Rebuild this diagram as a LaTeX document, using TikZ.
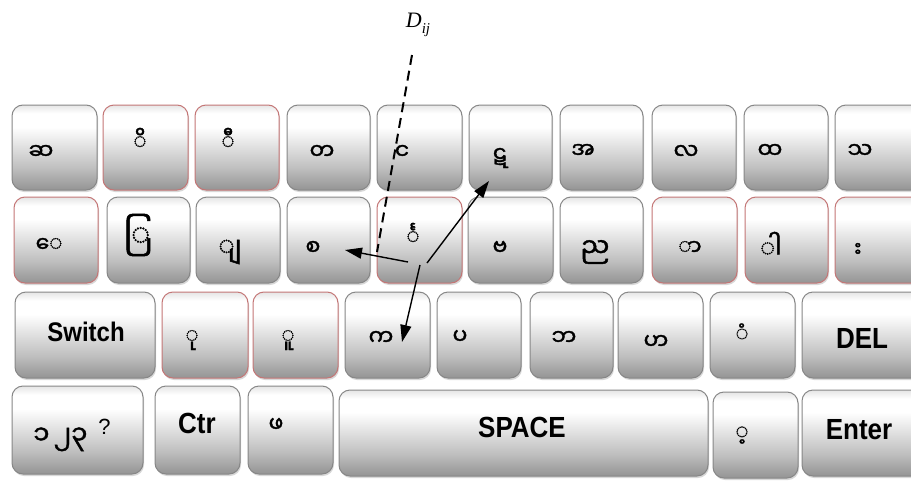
\documentclass[tikz,border=0pt]{standalone}
\usepackage{fontspec}
\usepackage{graphicx}
\setsansfont{Liberation Sans}
\newfontfamily\mym[Script=Myanmar,FakeBold=1.6]{Noto Sans Myanmar UI}
\newfontfamily\dfont{Liberation Serif}
\usetikzlibrary{arrows.meta,shadows}
\pgfdeclareverticalshading{keyshade}{100bp}{color(0bp)=(black!42); color(25bp)=(black!42); color(38bp)=(black!25); color(62bp)=(white); color(70bp)=(white); color(75bp)=(black!10); color(100bp)=(black!10)}
\definecolor{redb}{RGB}{196,118,118}
\definecolor{grayb}{RGB}{135,135,135}
\tikzset{
  keybox/.style={draw=grayb, line width=1pt, rounded corners=11pt, shading=keyshade, inner sep=0pt,
    drop shadow={shadow xshift=1pt, shadow yshift=-2pt, opacity=0.3}},
  redkey/.style={draw=redb},
  mtxt/.style={font=\mym\fontsize{22}{26}\selectfont, inner sep=0pt},
  ltxt/.style={font=\sffamily\bfseries\fontsize{26}{28}\selectfont, inner sep=0pt},
  arr/.style={-{Triangle[length=17pt,width=11pt]}, line width=1.4pt},
  dline/.style={dash pattern=on 10pt off 6pt, line width=2pt}
}
\newcommand\kbox[6][]{\node[keybox,#1,minimum width={#4pt-#2pt},minimum height={#5pt-#3pt}] (#6) at ({(#2+#4)/2},{(#3+#5)/2}) {};}
\newcommand\tall[1]{\scalebox{1}[1.12]{#1}}
\begin{document}
\begin{tikzpicture}[x=1pt,y=-1pt]
\useasboundingbox[fill=white] (0,0) rectangle (911,493);
% row 1
\kbox{12}{105}{97}{190}{k11}
\kbox[redkey]{103}{105}{188}{190}{k12}
\kbox[redkey]{195}{105}{279}{190}{k13}
\kbox{287}{105}{370}{190}{k14}
\kbox{377}{105}{462}{190}{k15}
\kbox{469}{105}{552}{190}{k16}
\kbox{560}{105}{643}{190}{k17}
\kbox{652}{105}{736}{190}{k18}
\kbox{744}{105}{828}{190}{k19}
\kbox{835}{105}{922}{190}{k1a}
% row 2
\kbox[redkey]{14}{197}{98}{283}{k21}
\kbox{107}{197}{190}{283}{k22}
\kbox{196}{197}{280}{283}{k23}
\kbox{287}{197}{370}{283}{k24}
\kbox[redkey]{377}{197}{462}{283}{k25}
\kbox{468}{197}{553}{283}{k26}
\kbox{560}{197}{643}{283}{k27}
\kbox[redkey]{652}{197}{737}{283}{k28}
\kbox[redkey]{745}{197}{828}{283}{k29}
\kbox[redkey]{835}{197}{922}{283}{k2a}
% row 3
\kbox{15}{292}{155}{378}{k31}
\kbox[redkey]{162}{292}{248}{378}{k32}
\kbox[redkey]{253}{292}{338}{378}{k33}
\kbox{345}{292}{430}{378}{k34}
\kbox{437}{292}{521}{378}{k35}
\kbox{530}{292}{613}{378}{k36}
\kbox{618}{292}{703}{378}{k37}
\kbox{710}{292}{795}{378}{k38}
\kbox{802}{292}{922}{378}{k39}
% row 4
\kbox{12}{386}{143}{474}{k41}
\kbox{155}{386}{240}{474}{k42}
\kbox{248}{386}{333}{474}{k43}
\kbox{339}{390}{708}{476}{k44}
\kbox{713}{392}{798}{478}{k45}
\kbox{802}{390}{922}{476}{k46}
% labels row 1
\node[mtxt] (t11) at (41,152) {ဆ};
\node[mtxt] (t12) at (140,139) {◌ိ};
\node[mtxt] (t13) at (228,139) {◌ီ};
\node[mtxt] (t14) at (322,152) {တ};
\node[mtxt] (t15) at (402,152) {င};
\node[mtxt] (t16) at (500,158) {ဋ};
\node[mtxt] (t17) at (583,151) {အ};
\node[mtxt] (t18) at (686,152) {လ};
\node[mtxt] (t19) at (770,151) {ထ};
\node[mtxt] (t1a) at (860,151) {သ};
% labels row 2
\node[mtxt] (t21) at (49,245) {◌ေ};
\node[mtxt, font=\mym\fontsize{32}{36}\selectfont] (t22) at (137,235) {◌ြ};
\node[mtxt, font=\mym\fontsize{27}{30}\selectfont] (t23) at (230,252) {◌ျ};
\node[mtxt] (t24) at (313,248) {စ};
\node[mtxt] (t25) at (413,234) {င်္◌};
\node[mtxt] (t26) at (500,248) {ဗ};
\node[mtxt, font=\mym\fontsize{26}{30}\selectfont] (t27) at (595,252) {ည};
\node[mtxt] (t28) at (690,248) {◌ာ};
\node[mtxt, font=\mym\fontsize{25}{30}\selectfont] (t29) at (771,245) {◌ါ};
\node[mtxt] (t2a) at (855,250) {^^^^00a0း};
% labels row 3
\node[ltxt, font=\sffamily\bfseries\fontsize{24}{28}\selectfont] (t31) at (86,332) {\tall{Switch}};
\node[mtxt] (t32) at (192,340) {◌ု};
\node[mtxt] (t33) at (288,340) {◌ူ};
\node[mtxt] (t34) at (381,338) {က};
\node[mtxt] (t35) at (460,337) {ပ};
\node[mtxt] (t36) at (564,338) {ဘ};
\node[mtxt] (t37) at (656,342) {ဟ};
\node[mtxt] (t38) at (742,333) {◌ံ};
\node[ltxt] (t39) at (862,338) {\tall{DEL}};
% labels row 4
\node[inner sep=0pt] (t41) at (72,435) {{\mym\fontsize{26}{30}\selectfont ၁\,၂၃}\hspace{11pt}\raisebox{10pt}{\sffamily\fontsize{22}{24}\selectfont ?}};
\node[ltxt] (t42) at (197,423) {\tall{Ctr}};
\node[mtxt] (t43) at (276,425) {ဖ};
\node[ltxt] (t44) at (522,427) {\tall{SPACE}};
\node[mtxt] (t45) at (742,435) {◌့};
\node[ltxt] (t46) at (859,430) {\tall{Enter}};
% D_ij and dashed line
\node[inner sep=0pt, font=\dfont\itshape\fontsize{22}{24}\selectfont] (D) at (418,25) {D\raisebox{-6pt}{\fontsize{15}{16}\selectfont ij}};
\coordinate (d1) at (412,55);
\coordinate (d2) at (377,252);
\draw[dline] (d1) -- (d2);
% arrows
\coordinate (o1) at (408,262); \coordinate (e1) at (345,250);
\coordinate (o2) at (427,263); \coordinate (e2) at (489,181);
\coordinate (o3) at (420,265); \coordinate (e3) at (402,342);
\draw[arr] (o1) -- (e1);
\draw[arr] (o2) -- (e2);
\draw[arr] (o3) -- (e3);
\end{tikzpicture}
\end{document}
